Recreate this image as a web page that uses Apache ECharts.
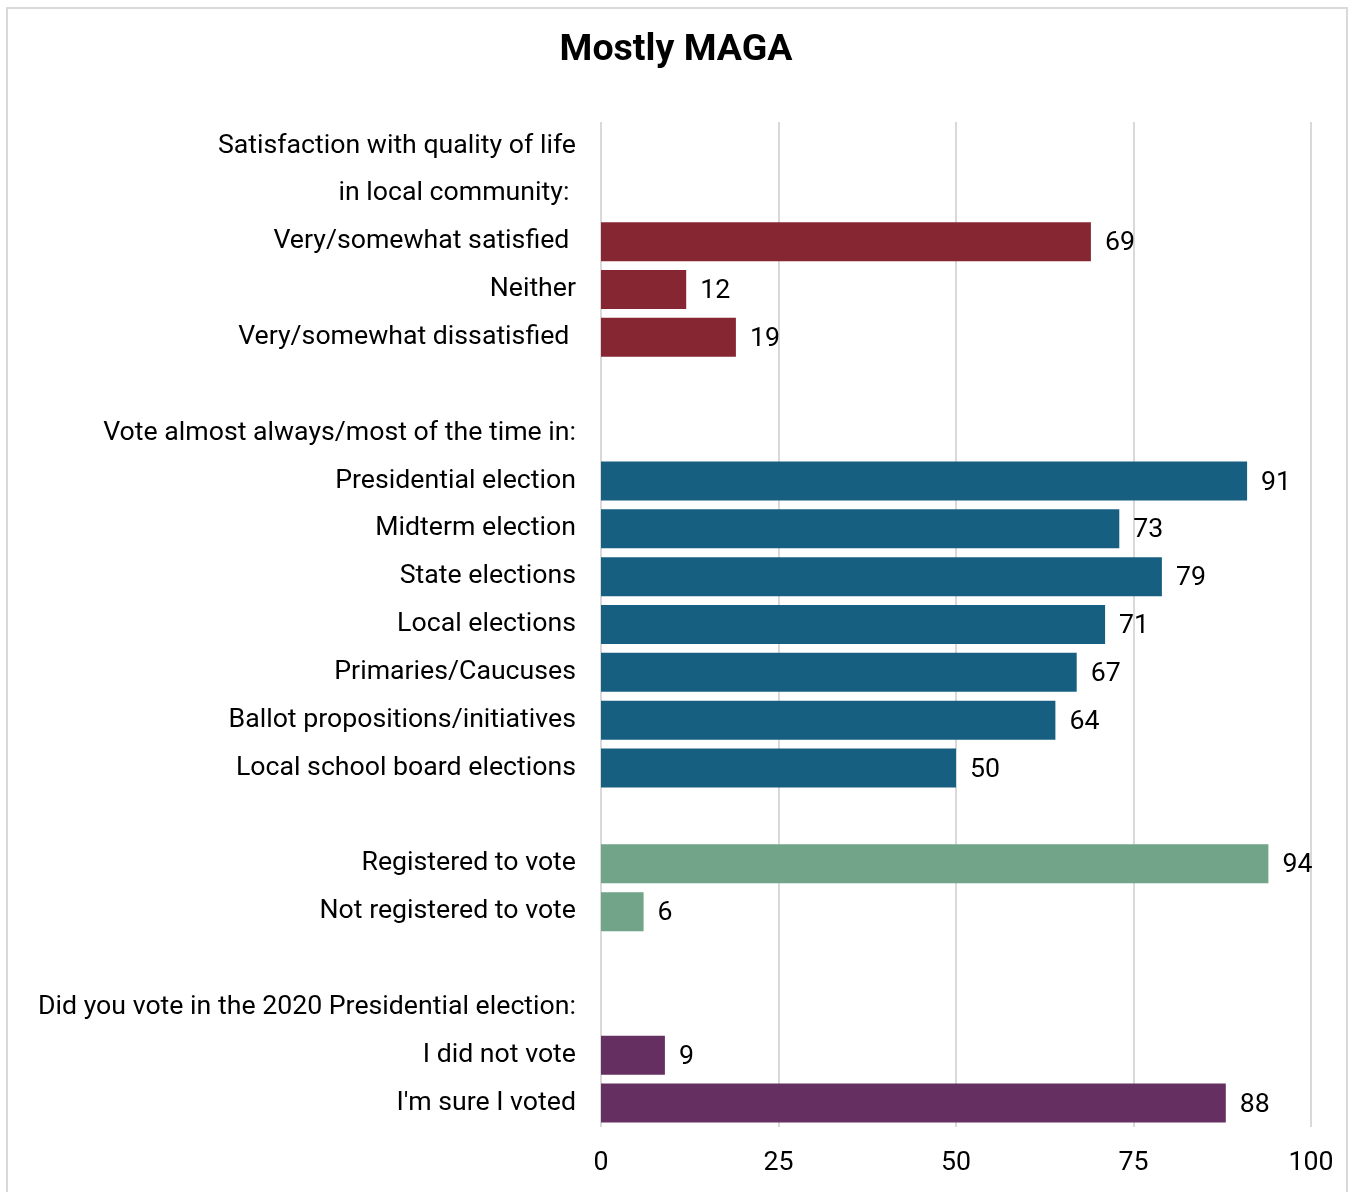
<!DOCTYPE html>
<html>
<head>
<meta charset="utf-8">
<script src="https://cdn.jsdelivr.net/npm/echarts@6/dist/echarts.min.js"></script>
<style>
  html, body { margin: 0; padding: 0; background: #fff; }
  #frame { position: absolute; left: 6px; top: 7px; width: 1342px; height: 1200px; border: 2px solid #d9d9d9; box-sizing: border-box; }
  #chart { position: absolute; left: 0; top: 0; width: 1352px; height: 1192px; }
</style>
</head>
<body>
<div id="frame"></div>
<div id="chart"></div>
<script>
const categories = [
  'Satisfaction with quality of life',
  'in local community: ',
  'Very/somewhat satisfied ',
  'Neither',
  'Very/somewhat dissatisfied ',
  '',
  'Vote almost always/most of the time in:',
  'Presidential election',
  'Midterm election',
  'State elections',
  'Local elections',
  'Primaries/Caucuses',
  'Ballot propositions/initiatives',
  'Local school board elections',
  ' ',
  'Registered to vote',
  'Not registered to vote',
  '  ',
  'Did you vote in the 2020 Presidential election:',
  'I did not vote',
  "I'm sure I voted"
];
const values = [null, null, 69, 12, 19, null, null, 91, 73, 79, 71, 67, 64, 50, null, 94, 6, null, null, 9, 88];
const groups = ['', '', 'sat', 'sat', 'sat', '', '', 'vote', 'vote', 'vote', 'vote', 'vote', 'vote', 'vote', '', 'reg', 'reg', '', '', 'v2020', 'v2020'];
const groupColors = { sat: '#862633', vote: '#175F80', reg: '#71A489', v2020: '#652F62' };
const xTicks = [0, 25, 50, 75, 100];

const chart = echarts.init(document.getElementById('chart'), null, { renderer: 'canvas' });
const font = 'Roboto, "Noto Sans", sans-serif';
chart.setOption({
  animation: false,
  title: {
    text: 'Mostly MAGA',
    left: 'center',
    top: 27,
    textStyle: { fontFamily: font, fontSize: 37.5, fontWeight: 'bold', color: '#000' }
  },
  grid: { left: 601, right: 41, top: 122, bottom: 65, containLabel: false },
  xAxis: {
    type: 'value',
    min: xTicks[0],
    max: xTicks[xTicks.length - 1],
    interval: 25,
    axisLine: { show: false },
    axisTick: { show: false },
    splitLine: { show: true, lineStyle: { color: '#d9d9d9', width: 2 } },
    axisLabel: { fontFamily: font, fontSize: 26.7, color: '#000', margin: 23 }
  },
  yAxis: {
    type: 'category',
    inverse: true,
    data: categories,
    axisLine: { show: false },
    axisTick: { show: false },
    splitLine: { show: false },
    axisLabel: { fontFamily: font, fontSize: 26.7, color: '#000', margin: 25, interval: 0, padding: [6, 0, 0, 0] }
  },
  series: [{
    type: 'bar',
    barWidth: 39,
    data: values.map((v, i) => ({
      value: v,
      itemStyle: { color: groupColors[groups[i]] || '#000' }
    })),
    label: {
      show: true,
      position: 'right',
      distance: 14,
      offset: [0, 2],
      fontFamily: font,
      fontSize: 26.7,
      color: '#000',
      formatter: p => (p.value == null ? '' : p.value)
    }
  }]
});
</script>
</body>
</html>
